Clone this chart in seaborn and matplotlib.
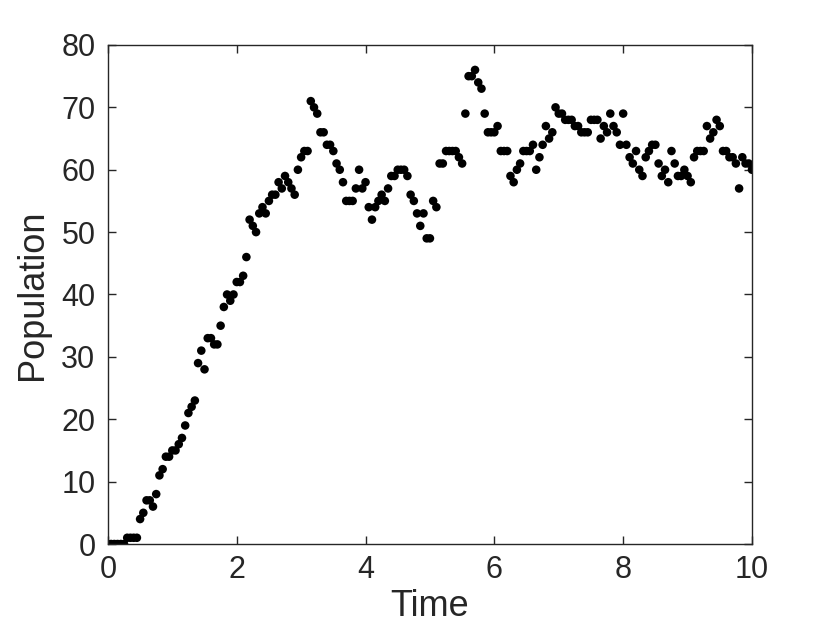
import numpy as np
import pandas as pd
import matplotlib
matplotlib.use("Agg")
import matplotlib.pyplot as plt
import seaborn as sns

population = [
    0, 0, 0, 0, 0, 0, 1, 1, 1, 1,
    4, 5, 7, 7, 6, 8, 11, 12, 14, 14,
    15, 15, 16, 17, 19, 21, 22, 23, 29, 31,
    28, 33, 33, 32, 32, 35, 38, 40, 39, 40,
    42, 42, 43, 46, 52, 51, 50, 53, 54, 53,
    55, 56, 56, 58, 57, 59, 58, 57, 56, 60,
    62, 63, 63, 71, 70, 69, 66, 66, 64, 64,
    63, 61, 60, 58, 55, 55, 55, 57, 60, 57,
    58, 54, 52, 54, 55, 56, 55, 57, 59, 59,
    60, 60, 60, 59, 56, 55, 53, 51, 53, 49,
    49, 55, 54, 61, 61, 63, 63, 63, 63, 62,
    61, 69, 75, 75, 76, 74, 73, 69, 66, 66,
    66, 67, 63, 63, 63, 59, 58, 60, 61, 63,
    63, 63, 64, 60, 62, 64, 67, 65, 66, 70,
    69, 69, 68, 68, 68, 67, 67, 66, 66, 66,
    68, 68, 68, 65, 67, 66, 69, 67, 66, 64,
    69, 64, 62, 61, 63, 60, 59, 62, 63, 64,
    64, 61, 59, 60, 58, 63, 61, 59, 59, 60,
    59, 58, 62, 63, 63, 63, 67, 65, 66, 68,
    67, 63, 63, 62, 62, 61, 57, 62, 61, 61,
    60,
]
dt = 0.05
time = np.round(np.arange(len(population)) * dt, 2)

x_ticks = [0, 2, 4, 6, 8, 10]
y_ticks = [0, 10, 20, 30, 40, 50, 60, 70, 80]

df = pd.DataFrame({"Time": time, "Population": population})

sns.set_theme(style="ticks")
plt.rcParams["font.family"] = ["Liberation Sans", "DejaVu Sans"]

fig = plt.figure(figsize=(8.3, 6.23), dpi=100)
ax = fig.add_axes([0.130, 0.1268, 0.776, 0.801])

sns.scatterplot(data=df, x="Time", y="Population", ax=ax, color="black",
                s=38, edgecolor="none", linewidth=0, legend=False)

ax.set_xlim(0, 10)
ax.set_ylim(0, 80)
ax.set_xticks(x_ticks)
ax.set_yticks(y_ticks)
txt = "#262626"
ax.tick_params(direction="in", length=6, width=1, colors=txt, labelsize=22,
               top=True, right=True)
ax.tick_params(axis="y", pad=9)
ax.tick_params(axis="x", pad=8)
for s in ax.spines.values():
    s.set_visible(True)
    s.set_color(txt)
    s.set_linewidth(1)
ax.set_xlabel("Time", fontsize=26, color=txt, labelpad=3)
ax.set_ylabel("Population", fontsize=26, color=txt, labelpad=8)

fig.savefig("out.png", dpi=100)
